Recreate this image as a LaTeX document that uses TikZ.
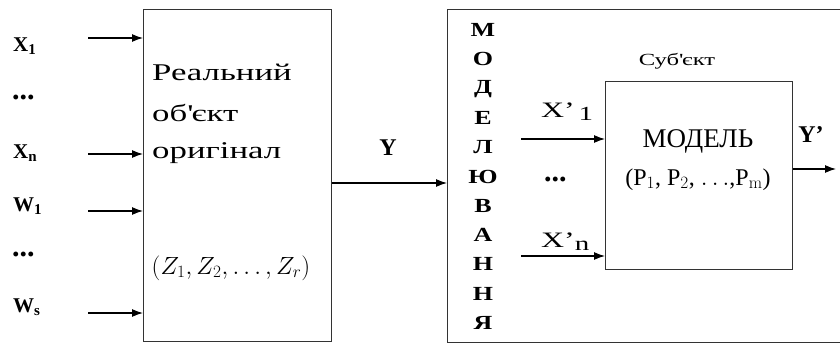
\documentclass[tikz,border=0pt]{standalone}
\usepackage[no-math]{fontspec}
\setmainfont{Liberation Serif}
\newfontfamily\wideserif[FakeStretch=1.45]{Liberation Serif}
\newfontfamily\vertfont[FakeStretch=1.3]{Liberation Serif}
\usetikzlibrary{arrows.meta}
\newcommand{\fsz}[1]{\fontsize{#1}{#1}\selectfont}
\newcommand{\lowsub}[2]{\raisebox{-#1pt}{#2}}

\begin{document}
\begin{tikzpicture}[x=1pt,y=-1pt,
  box/.style={draw=black!80,line width=1.3pt,inner sep=0pt,anchor=north west},
  arr/.style={line width=1.2pt,-{Latex[length=11pt,width=8pt]}},
  inlab/.style={anchor=base west,inner sep=0pt,font=\bfseries\fsz{21}},
  dots/.style={anchor=base west,inner sep=0pt,font=\bfseries\fsz{30}},
  vlet/.style={inner sep=0pt,font=\vertfont\bfseries\fsz{20}}]
\clip (0,0) rectangle (840,345);

% blocks
\node[box,minimum width=188pt,minimum height=332pt] (real) at (143,9) {};
\node[box,minimum width=410pt,minimum height=333pt] (outer) at (447,9) {};
\node[box,minimum width=187pt,minimum height=188pt] (model) at (605,81) {};

% inputs of the real object
\coordinate (x1) at (88,38);
\coordinate (xn) at (88,154);
\coordinate (w1) at (88,211);
\coordinate (ws) at (88,313);
\foreach \c in {x1,xn,w1,ws}
  \draw[arr] (\c) -- (\c -| real.west);

\node[inlab] (lx1) at (13,52) {X\lowsub{3}{\fsz{15}1}};
\node[dots] (ld1) at (12,99) {...};
\node[inlab] (lxn) at (13,158) {X\lowsub{3}{\fsz{15}n}};
\node[inlab] (lw1) at (13,211) {W\lowsub{3}{\fsz{15}1}};
\node[dots] (ld2) at (12,256) {...};
\node[inlab] (lws) at (13,312) {W\lowsub{3}{\fsz{15}s}};

\node[anchor=base west,inner sep=0pt,font=\wideserif\fsz{24}] (t1) at (152,80) {Реальний};
\node[anchor=base west,inner sep=0pt,font=\wideserif\fsz{24}] (t2) at (152,121) {об\textquotesingle єкт};
\node[anchor=base west,inner sep=0pt,font=\wideserif\fsz{24}] (t3) at (152,158) {оригінал};
\node[inner sep=0pt,font=\fsz{25}] (zpar) at (231,268) {$(Z_1, Z_2, \ldots, Z_r)$};

% output Y
\coordinate (yin) at (447,183);
\draw[arr] (real.east |- yin) -- (yin);
\node[inner sep=0pt,font=\bfseries\fsz{24}] (ly) at (388,148) {Y};

% modelling, vertical
\foreach \ch [count=\i from 0] in {М,О,Д,Е,Л,Ю,В,А,Н,Н,Я}
  \node[vlet] (v\i) at (483,{30+29.3*\i}) {\ch};

% subject and model
\node[anchor=base,inner sep=0pt,font=\wideserif\fsz{17}] (subj) at (677,66) {Суб\textquotesingle єкт};
\node[anchor=base,inner sep=0pt,font=\fsz{27}] (mname) at (698,147) {МОДЕЛЬ};
\node[anchor=base,inner sep=0pt,font=\fsz{24}] (mpar) at (698,185)
  {(P$_{\mathrm{1}}$, P$_{\mathrm{2}}$, $\ldots$,P$_{\mathrm{m}}$)};

\coordinate (xp1) at (521,139);
\coordinate (xpn) at (521,256);
\draw[arr] (xp1) -- (xp1 -| model.west);
\draw[arr] (xpn) -- (xpn -| model.west);
\node[anchor=base west,inner sep=0pt,font=\wideserif\fsz{22}] (lxp1) at (541,117) {X’\,\lowsub{3}{\fsz{20}1}};
\node[anchor=base west,inner sep=0pt,font=\wideserif\fsz{22}] (lxpn) at (541,247) {X’\lowsub{3}{\fsz{20}n}};
\node[dots] (ldp) at (544,181) {...};

\coordinate (ypout) at (836,169);
\draw[arr] (model.east |- ypout) -- (ypout);
\node[inner sep=0pt,font=\bfseries\fsz{24}] (lyp) at (811,135) {Y’};
\end{tikzpicture}
\end{document}
